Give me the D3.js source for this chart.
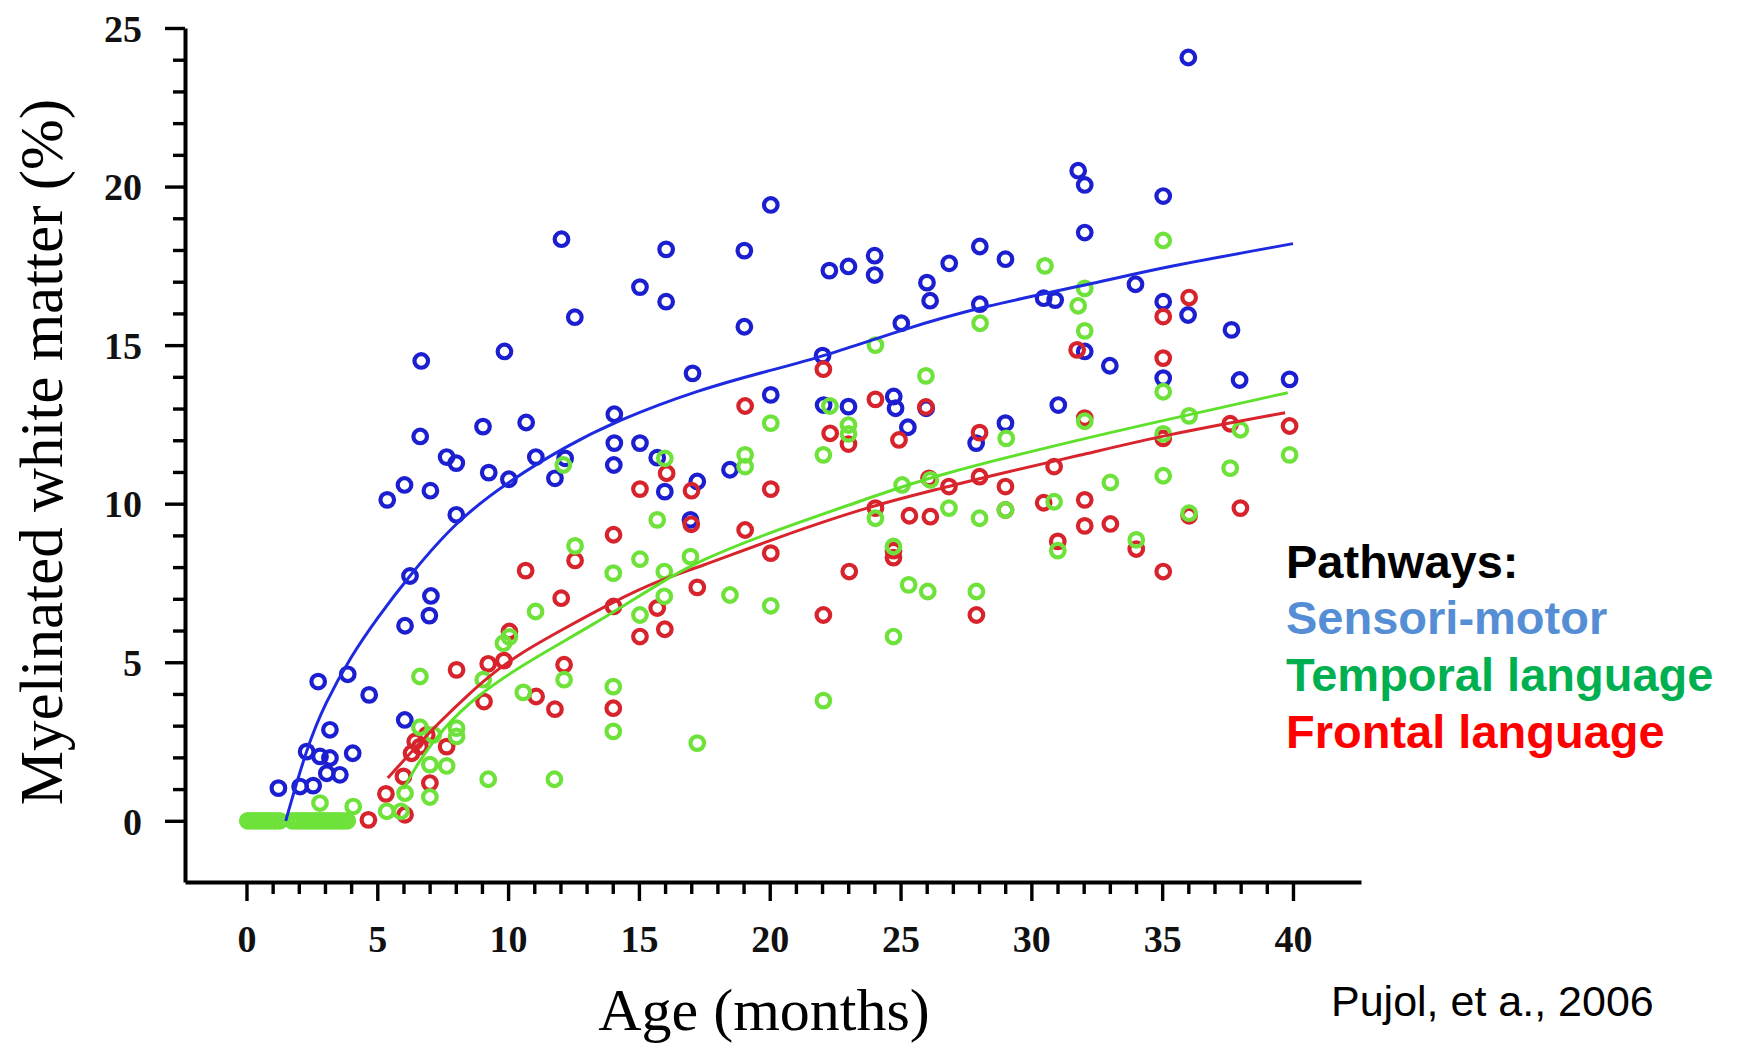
<!doctype html>
<html lang="en">
<head>
  <meta charset="utf-8">
  <title>Myelinated white matter - D3</title>
  <style>
    body { margin: 0; background: #fff; }
    svg { display: block; }
  </style>
</head>
<body>
  <svg></svg>
  <script src="https://cdn.jsdelivr.net/npm/d3@7"></script>
  <script>
    // observed points, age in months and % myelinated white matter
    var sensoriAge = [1.22, 2.05, 2.55, 2.30, 2.74, 3.87, 3.19, 2.81, 3.19, 3.07, 3.57, 4.06, 4.69, 6.05, 5.38, 6.04, 6.25, 6.06, 7.05, 6.99,
      6.68, 6.64, 7.03, 7.65, 8.02, 8.02, 9.04, 9.26, 9.86, 10.03, 10.69, 11.06, 11.79, 12.04, 12.18, 12.55, 14.06, 14.06, 14.04, 15.04,
      15.04, 15.70, 16.04, 16.04, 15.99, 16.97, 17.05, 17.23, 18.48, 19.03, 19.03, 20.04, 20.04, 22.02, 22.28, 22.06, 23.01, 23.01, 24.01, 24.01,
      24.74, 24.81, 25.03, 25.28, 25.98, 26.01, 26.13, 26.86, 28.03, 28.03, 27.89, 29.01, 29.01, 30.47, 30.91, 31.03, 31.79, 32.04, 32.04, 32.04,
      33.00, 33.98, 35.04, 35.04, 35.04, 36.00, 35.99, 37.65, 37.96, 39.87];
    var sensoriPct = [1.03, 1.08, 1.11, 2.18, 4.39, 4.62, 2.87, 2.03, 1.98, 1.50, 1.45, 2.13, 3.97, 3.18, 10.12, 10.59, 7.72, 6.15, 7.09, 6.47,
      14.5, 12.12, 10.41, 11.47, 11.28, 9.65, 12.43, 10.98, 14.8, 10.77, 12.56, 11.47, 10.80, 18.34, 11.43, 15.88, 12.82, 11.91, 11.22, 16.83,
      11.91, 11.45, 18.02, 16.37, 10.38, 9.49, 14.11, 10.70, 11.07, 17.98, 15.58, 19.42, 13.43, 14.67, 17.35, 13.11, 17.48, 13.06, 17.82, 17.21,
      13.38, 13.01, 15.69, 12.41, 13.01, 16.97, 16.40, 17.58, 18.11, 16.29, 11.91, 17.71, 12.54, 16.48, 16.42, 13.11, 20.50, 20.05, 18.55, 14.80,
      14.35, 16.92, 19.70, 16.37, 13.96, 24.07, 15.95, 15.48, 13.90, 13.92];

    var frontalAge = [4.66, 5.33, 6.06, 6.00, 7.01, 6.31, 6.63, 6.45, 7.65, 6.89, 8.03, 9.24, 9.84, 10.05, 9.08, 10.67, 11.07, 11.79, 12.03, 12.14,
      12.56, 14.03, 14.03, 14.02, 15.04, 15.04, 15.70, 15.99, 16.06, 17.01, 17.00, 17.23, 19.06, 19.06, 20.04, 20.04, 22.05, 22.05, 22.31, 23.01,
      23.04, 24.04, 24.04, 24.73, 24.73, 24.94, 25.34, 25.97, 26.14, 26.09, 26.85, 28.02, 28.02, 27.90, 29.01, 29.01, 30.47, 30.87, 31.01, 31.75,
      32.04, 32.04, 32.04, 33.02, 34.01, 35.04, 35.04, 35.04, 35.04, 36.03, 36.03, 37.60, 37.99, 39.87];
    var frontalPct = [0.03, 0.85, 0.19, 1.40, 1.19, 2.13, 2.34, 2.50, 2.34, 2.71, 4.76, 4.95, 5.05, 5.97, 3.76, 7.89, 3.92, 3.52, 7.02, 4.92,
      8.21, 9.02, 6.76, 3.55, 10.46, 5.81, 6.71, 6.04, 10.96, 10.41, 9.35, 7.36, 13.08, 9.17, 10.46, 8.44, 14.24, 6.49, 12.22, 11.88,
      7.86, 13.29, 9.86, 8.52, 8.30, 12.01, 9.62, 13.05, 9.59, 10.80, 10.54, 12.24, 10.85, 6.49, 10.54, 9.80, 10.03, 11.17, 8.81, 14.85,
      12.70, 10.12, 9.30, 9.36, 8.57, 15.90, 14.59, 12.06, 7.86, 16.50, 9.62, 12.52, 9.86, 12.45];

    var temporalAge = [0.05, 0.2, 0.35, 0.5, 0.65, 0.8, 0.95, 1.1, 1.27, 1.75, 1.9, 2.05, 2.2, 2.35, 2.5, 2.65, 2.8, 2.95, 3.1,
      3.25, 3.4, 3.55, 3.7, 3.85, 2.81, 4.08, 5.36, 5.90, 6.06,
      7.01, 7.01, 7.65, 6.63, 7.14, 8.03, 8.03, 6.63, 9.24, 9.05, 9.82, 10.05, 10.58, 11.05, 11.77, 12.14, 12.11, 12.56, 14.02, 14.02,
      14.02, 15.04, 15.04, 15.70, 15.97, 15.97, 15.99, 16.97, 17.23, 18.48, 19.06, 19.06, 20.04, 20.04, 22.05, 22.05, 22.30, 23.01, 23.01, 24.04,
      24.04, 24.73, 24.73, 25.06, 25.31, 25.97, 26.04, 26.14, 26.85, 28.04, 28.02, 27.90, 29.04, 29.01, 30.52, 30.87, 31.01, 31.79, 32.04, 32.04,
      32.04, 33.02, 34.01, 35.04, 35.04, 35.04, 35.04, 36.03, 36.03, 37.60, 37.99, 39.87];
    var temporalPct = [0, 0, 0, 0, 0, 0, 0, 0, 0, 0, 0, 0, 0, 0, 0, 0, 0, 0, 0,
      0, 0, 0, 0, 0, 0.56, 0.45, 0.30, 0.30, 0.87,
      0.75, 1.77, 1.73, 2.95, 2.71, 2.92, 2.66, 4.55, 1.31, 4.45, 5.60, 5.80, 4.05, 6.60, 1.31, 4.45, 11.22, 8.67, 7.81, 4.23,
      2.82, 8.25, 6.49, 9.49, 7.86, 7.08, 11.43, 8.33, 2.45, 7.12, 11.54, 11.17, 12.54, 6.78, 11.54, 3.79, 13.08, 12.48, 12.20, 15.00,
      9.54, 8.65, 5.81, 10.59, 7.44, 14.03, 7.23, 10.75, 9.86, 15.69, 9.54, 7.23, 12.06, 9.80, 17.50, 10.06, 8.52, 16.24, 16.79, 15.45,
      12.60, 10.67, 8.86, 18.30, 13.53, 12.20, 10.88, 12.77, 9.70, 11.12, 12.33, 11.54];

    // fitted curves
    var sensoriFitAge = [1.5, 2.3, 3.0, 4.0, 5.0, 6.2, 8.0, 10.1, 12.2, 14.1, 17.3, 20, 22.1, 25.1, 28, 32.7, 35, 40];
    var sensoriFitPct = [0, 2.3, 3.7, 5.2, 6.4, 7.7, 9.45, 10.75, 11.8, 12.6, 13.6, 14.2, 14.65, 15.5, 16.2, 17.0, 17.45, 18.2];
    var frontalFitAge = [5.4, 6.5, 7.3, 8.5, 9.4, 10.5, 12.0, 14.0, 15.8, 17.3, 20, 23.9, 26.9, 28, 32, 35, 39.7];
    var frontalFitPct = [1.35, 2.35, 3.05, 4.0, 4.65, 5.3, 6.0, 6.9, 7.6, 8.0, 8.85, 9.95, 10.55, 10.8, 11.55, 12.15, 12.87];
    var temporalFitAge = [6.0, 6.6, 7.5, 8.8, 10.7, 13.3, 15.8, 17.3, 20, 23.9, 26.1, 32, 36, 39.8];
    var temporalFitPct = [1.0, 1.9, 2.9, 3.95, 5.0, 6.2, 7.5, 8.2, 9.1, 10.2, 10.85, 12.06, 12.8, 13.5];

    var xTicks = d3.range(0, 41);
    var yTicks = d3.range(0, 26);
    var legendLabels = ['Pathways:', 'Sensori-motor', 'Temporal language', 'Frontal language'];

    var width = 1739;
    var height = 1045;
    var serif = '"Liberation Serif", "Times New Roman", serif';
    var sans = '"Liberation Sans", Arial, sans-serif';

    var svg = d3.select('svg')
      .attr('width', width)
      .attr('height', height);

    var xScale = d3.scaleLinear().domain([-2.35, 42.6]).range([185, 1361]);
    var yScale = d3.scaleLinear().domain([-1.93, 25]).range([882, 28]);

    // axes
    var xAxis = d3.axisBottom(xScale).tickValues(xTicks).tickSizeOuter(0)
      .tickFormat(d => d % 5 === 0 ? d : '');
    var gx = svg.append('g')
      .attr('transform', 'translate(0,' + yScale(-1.93) + ')')
      .call(xAxis);
    gx.selectAll('.tick line')
      .attr('y2', d => d % 5 === 0 ? 19 : 12)
      .attr('stroke-width', 3.4);
    gx.selectAll('.tick text')
      .attr('y', 70).attr('dy', 0)
      .style('font', 'bold 38px ' + serif);

    var yAxis = d3.axisLeft(yScale).tickValues(yTicks).tickSizeOuter(0)
      .tickFormat(d => d % 5 === 0 ? d : '');
    var gy = svg.append('g')
      .attr('transform', 'translate(' + xScale(-2.35) + ',0)')
      .call(yAxis);
    gy.selectAll('.tick line')
      .attr('x2', d => d % 5 === 0 ? -20 : -12)
      .attr('stroke-width', 3.4);
    gy.selectAll('.tick text')
      .attr('x', -43).attr('dy', '0.35em')
      .style('font', 'bold 38px ' + serif);

    svg.selectAll('.domain').attr('stroke-width', 4).attr('stroke', '#000');
    svg.selectAll('.tick line').attr('stroke', '#000');
    svg.selectAll('.tick text').attr('fill', '#111');

    // axis titles
    svg.append('text')
      .attr('x', 764).attr('y', 1030)
      .attr('text-anchor', 'middle')
      .style('font', '60px ' + serif)
      .text('Age (months)');
    svg.append('text')
      .attr('transform', 'translate(62,452) rotate(-90)')
      .attr('text-anchor', 'middle')
      .style('font', '61px ' + serif)
      .text('Myelinated white matter (%)');

    // scatter points
    function drawPoints(ages, pcts, color) {
      svg.append('g').selectAll('circle')
        .data(ages.map((a, i) => [a, pcts[i]]))
        .enter().append('circle')
        .attr('cx', d => xScale(d[0]))
        .attr('cy', d => yScale(d[1]))
        .attr('r', 6.8)
        .attr('fill', 'none')
        .attr('stroke', color)
        .attr('stroke-width', 4.2);
    }
    drawPoints(sensoriAge, sensoriPct, '#1c1fcf');
    drawPoints(frontalAge, frontalPct, '#d6232c');
    drawPoints(temporalAge, temporalPct, '#6ee23a');

    // fit lines
    var line = d3.line()
      .x(d => xScale(d[0]))
      .y(d => yScale(d[1]))
      .curve(d3.curveBasis);
    function drawFit(ages, pcts, color) {
      svg.append('path')
        .datum(ages.map((a, i) => [a, pcts[i]]))
        .attr('fill', 'none')
        .attr('stroke', color)
        .attr('stroke-width', 3)
        .attr('d', line);
    }
    drawFit(sensoriFitAge, sensoriFitPct, '#1e2ae0');
    drawFit(frontalFitAge, frontalFitPct, '#d8242c');
    drawFit(temporalFitAge, temporalFitPct, '#5fe02c');

    // legend
    var legendColors = ['#000', '#558ed5', '#00b050', '#ff0000'];
    var legendY = [578, 634, 691, 748];
    svg.append('g').selectAll('text')
      .data(legendLabels).enter()
      .append('text')
      .attr('x', 1286)
      .attr('y', (d, i) => legendY[i])
      .attr('fill', (d, i) => legendColors[i])
      .style('font', 'bold 47px ' + sans)
      .text(d => d);

    svg.append('text')
      .attr('x', 1331).attr('y', 1016)
      .style('font', '43px ' + sans)
      .text('Pujol, et a., 2006');
  </script>
</body>
</html>
